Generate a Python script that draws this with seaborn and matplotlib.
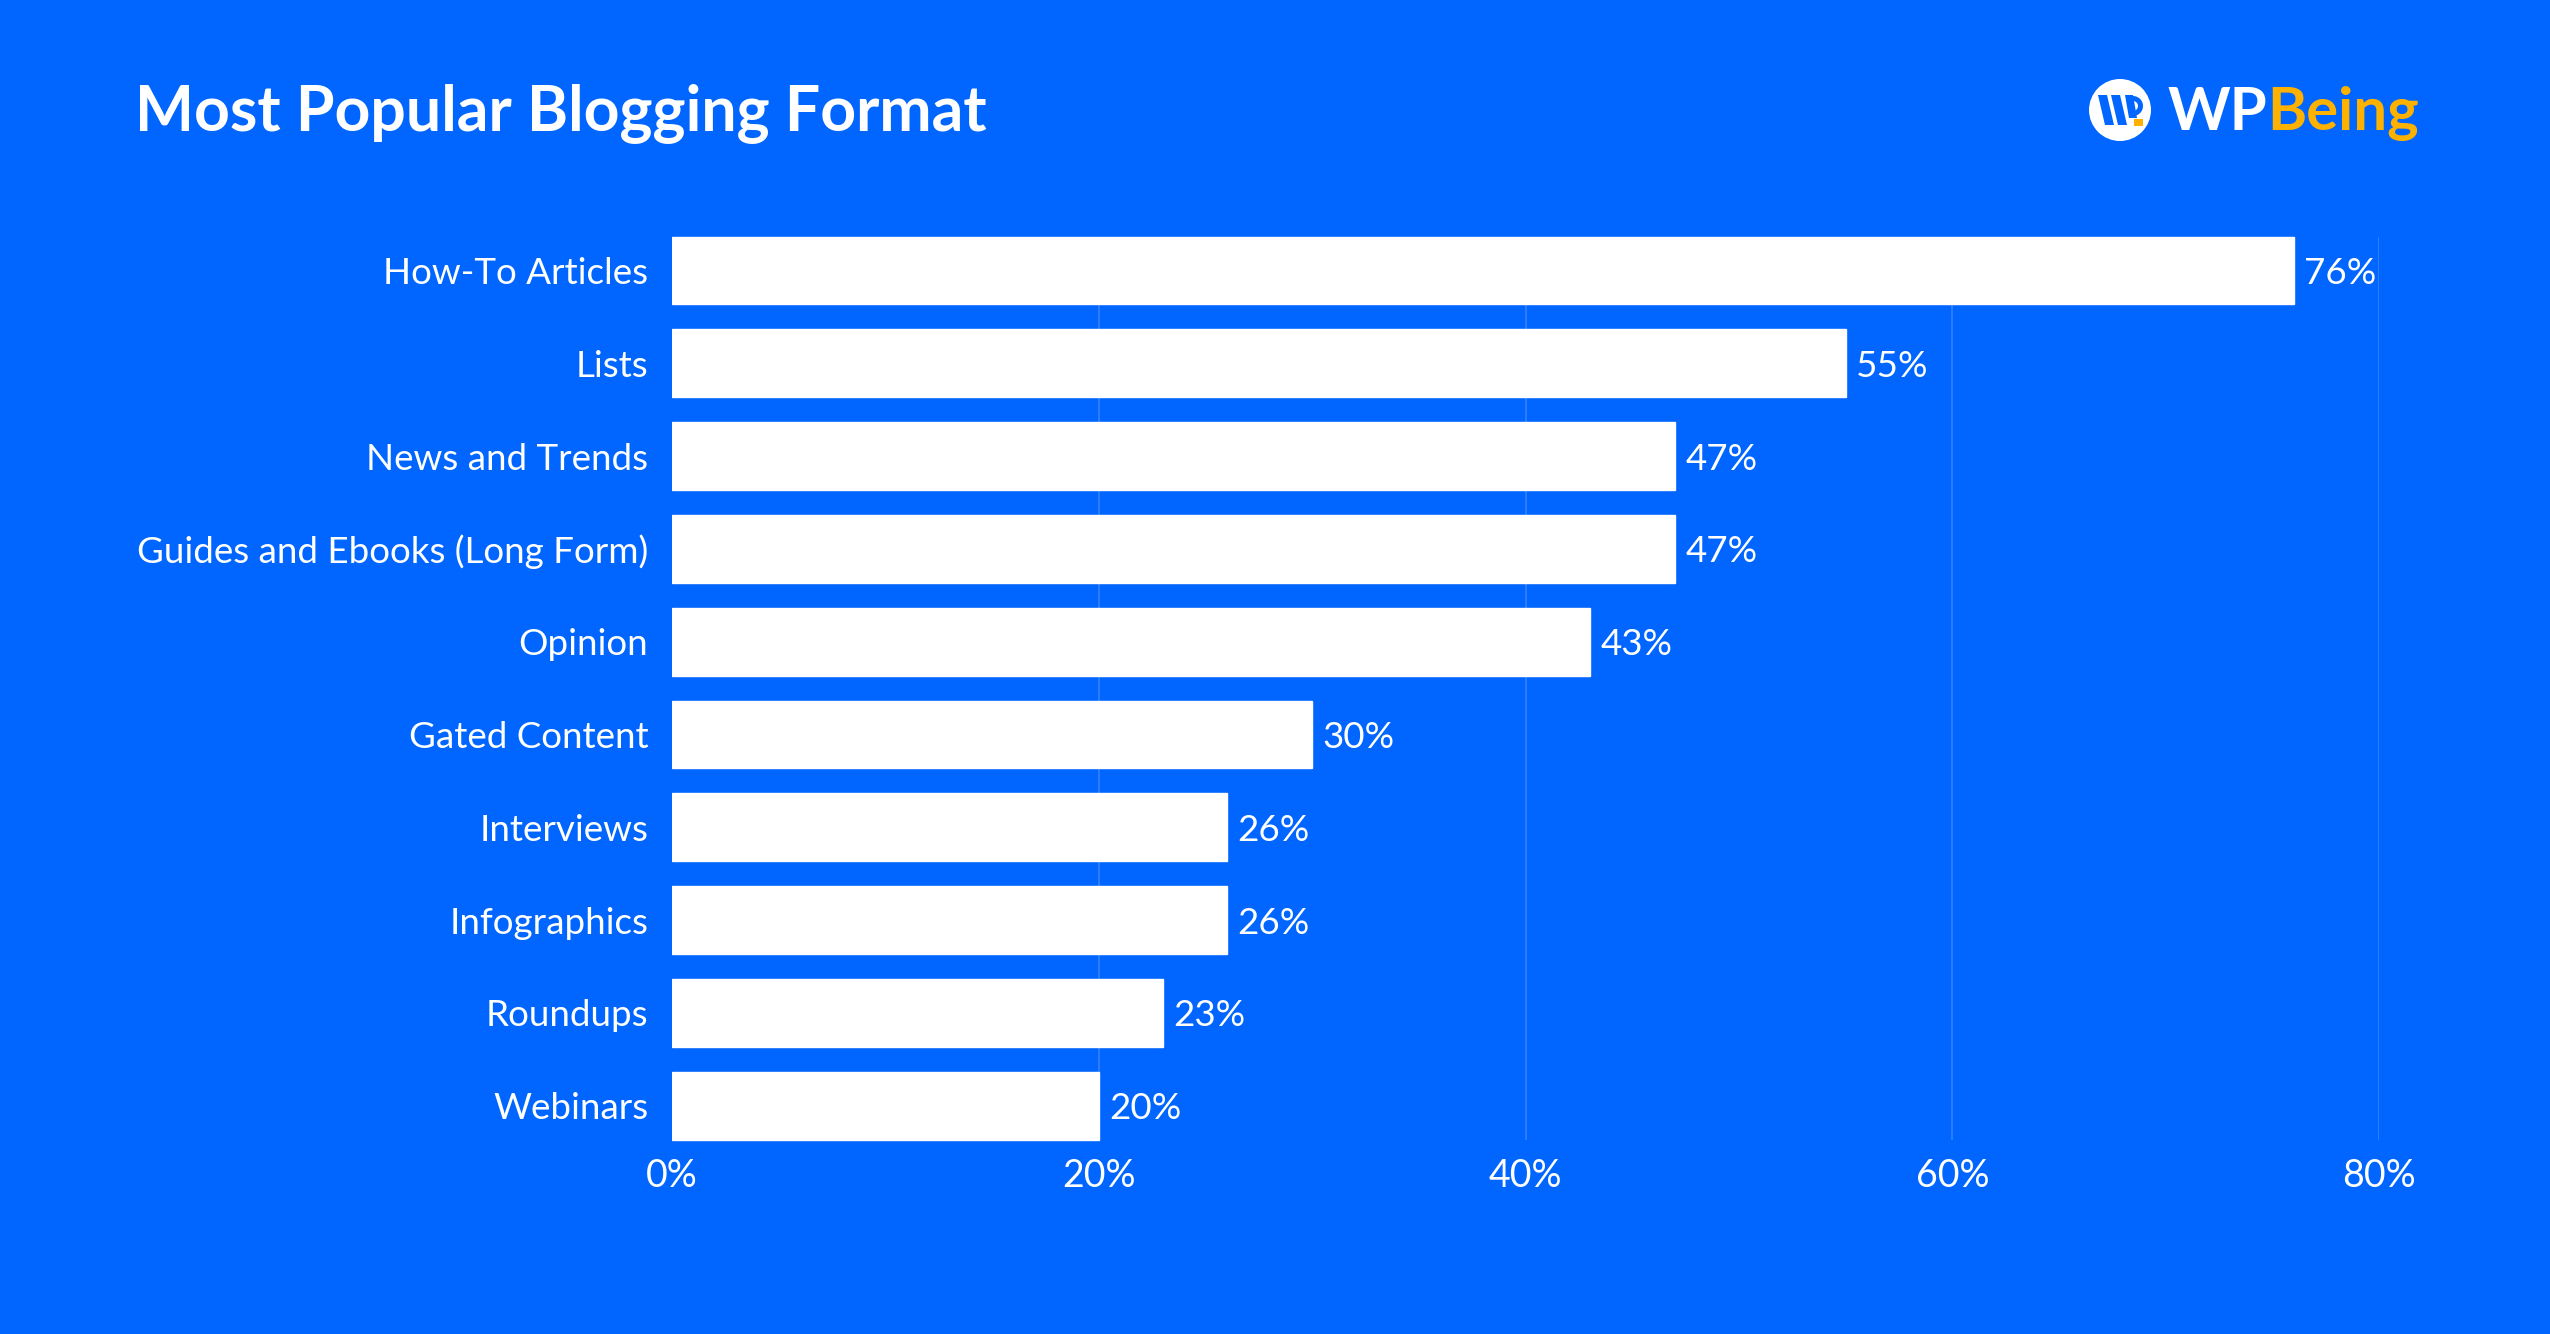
import matplotlib
matplotlib.use("Agg")
import matplotlib.pyplot as plt
import matplotlib.patches as mpatches
import pandas as pd
import seaborn as sns

formats = ["How-To Articles", "Lists", "News and Trends", "Guides and Ebooks (Long Form)",
           "Opinion", "Gated Content", "Interviews", "Infographics", "Roundups", "Webinars"]
shares = [76, 55, 47, 47, 43, 30, 26, 26, 23, 20]
x_ticks = [0, 20, 40, 60, 80]

bg = "#0066FF"
grid_col = "#2a7dff"
orange = "#FFB100"
bar_w = 0.73

sns.set_theme(style="white")
plt.rcParams["font.family"] = ["Lato", "DejaVu Sans"]

df = pd.DataFrame({"Format": formats, "Share": shares})

fig = plt.figure(figsize=(25.5, 13.34), dpi=100, facecolor=bg)
ax = fig.add_axes([0.2635, 0.1364, 0.6695, 0.6956])
ax.set_facecolor(bg)

sns.barplot(data=df, x="Share", y="Format", color="white", width=bar_w,
            saturation=1, ax=ax, zorder=3)

ax.set_xlim(0, 80)
ax.set_ylim(len(formats) - 0.5, -0.5)
ax.set_xticks(x_ticks)
ax.set_xticklabels([f"{t}%" for t in x_ticks], color="white", fontsize=27)
ax.tick_params(axis="x", length=0, pad=4)
ax.tick_params(axis="y", length=0, pad=17, labelsize=26.5, labelcolor="white")
ax.set_xlabel("")
ax.set_ylabel("")
for s in ax.spines.values():
    s.set_visible(False)
ax.grid(False)
# grid only spans the bars
ax.vlines(x_ticks[1:], -bar_w / 2, len(formats) - 1 + bar_w / 2, color=grid_col,
          linewidth=1.5, zorder=0)
ax.set_ylim(len(formats) - 0.5, -0.5)

for i, v in enumerate(shares):
    ax.text(v + 0.5, i, f"{v}%", va="center_baseline", ha="left", color="white",
            fontsize=26.5)

fig.text(0.053, 0.915, "Most Popular Blogging Format", color="white", fontsize=45,
         fontweight="bold", va="center", ha="left")

# logo
H = 1334
circ = mpatches.Circle((2120, H - 110), 31, transform=None, facecolor="white",
                       edgecolor="none")
fig.patches.append(circ)
for xs in ([2098, 2107, 2114, 2105], [2111, 2120, 2127, 2118]):
    poly = mpatches.Polygon(list(zip(xs, [H - 95, H - 95, H - 125, H - 125])),
                            closed=True, transform=None, facecolor=bg, edgecolor="none")
    fig.patches.append(poly)
stem = mpatches.Polygon([(2125, H - 95), (2133, H - 95), (2137, H - 118), (2129, H - 118)],
                        closed=True, transform=None, facecolor=bg, edgecolor="none")
fig.patches.append(stem)
bowl = mpatches.Wedge((2133, H - 106), 10, -90, 90, width=5, transform=None,
                      facecolor=bg, edgecolor="none")
fig.patches.append(bowl)
sq = mpatches.Rectangle((2134, H - 126), 9, 7, transform=None, facecolor=orange,
                        edgecolor="none")
fig.patches.append(sq)

wp = fig.text(2167 / 2550, 0.915, "WP", color="white", fontsize=43, fontweight="bold",
              va="center", ha="left")
fig.canvas.draw()
bb = wp.get_window_extent()
fig.text(bb.x1 / 2550, 0.915, "Being", color=orange, fontsize=43, fontweight="bold",
         va="center", ha="left")

fig.savefig("out.png", dpi=100, facecolor=bg)
